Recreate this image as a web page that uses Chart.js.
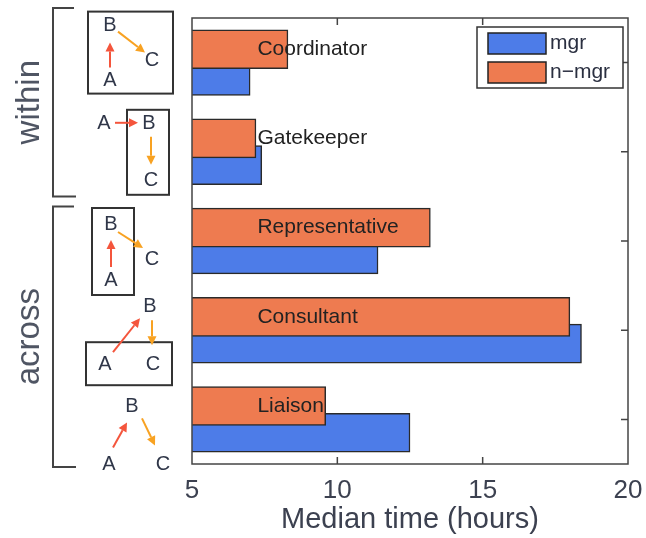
<!DOCTYPE html>
<html>
<head>
<meta charset="utf-8">
<script src="https://cdn.jsdelivr.net/npm/chart.js@4.4.1/dist/chart.umd.min.js"></script>
<style>
  html, body { margin: 0; padding: 0; background: #fff; }
  #wrap { width: 646px; height: 538px; }
</style>
</head>
<body>
<div id="wrap"><canvas id="chart" width="646" height="538"></canvas></div>
<script>
// Values
const roles = ['Coordinator', 'Gatekeeper', 'Representative', 'Consultant', 'Liaison'];
const mgrTimes = [7.0, 7.4, 11.4, 18.4, 12.5];
const nmgrTimes = [8.3, 7.2, 13.2, 18.0, 9.6];
const xTicks = [5, 10, 15, 20];
const xTitle = 'Median time (hours)';
const groupLabels = ['within', 'across'];
const groupRows = [[0, 1], [2, 4]];

const FONT = "'Liberation Sans', Arial, sans-serif";
const BLUE = '#4d7ce8';
const ORANGE = '#ee7b50';
const RED_ARROW = '#f4553c';
const ORANGE_ARROW = '#f8a222';
const INK = '#2f3648';
const AXIS_INK = '#3c4150';
const ROW_SHIFT = 0.15;   // each series sits a bit off the row centre (bars overlap)
const LABEL_AT = 7.25;    // role names start at this x value

// broker motif next to each row: letter offsets in px from the row centre,
// box [x0, dy0, x1, dy1], arrows [x0, dy0, x1, dy1]
const motifs = [
  { A: [110, 17], B: [110, -38], C: [152, -3], box: [88, -51, 173, 31],
    red: [110, 5, 110, -20], orange: [118, -31, 145, -10] },
  { A: [104, -29], B: [149, -29], C: [151, 28], box: [127, -42, 169, 43],
    red: [115, -29, 138, -29], orange: [151, -15, 151, 13] },
  { A: [111, 38], B: [111, -18], C: [152, 17], box: [92, -33, 134, 54],
    red: [111, 26, 111, -1], orange: [118, -9, 143, 7] },
  { A: [105, 33], B: [150, -25], C: [153, 33], box: [86, 12, 172, 55],
    red: [113, 22, 140, -12], orange: [152, -10, 152, 15] },
  { A: [109, 44], B: [132, -14], C: [163, 44], box: null,
    red: [113, 28, 127, 3], orange: [142, -1, 155, 26] },
];

function arrow(ctx, x0, y0, x1, y1, color) {
  const ang = Math.atan2(y1 - y0, x1 - x0);
  const head = 9, half = 4.5;
  const bx = x1 - head * Math.cos(ang), by = y1 - head * Math.sin(ang);
  ctx.save();
  ctx.strokeStyle = color;
  ctx.fillStyle = color;
  ctx.lineWidth = 2;
  ctx.beginPath();
  ctx.moveTo(x0, y0);
  ctx.lineTo(bx, by);
  ctx.stroke();
  ctx.beginPath();
  ctx.moveTo(x1, y1);
  ctx.lineTo(bx + half * Math.sin(ang), by - half * Math.cos(ang));
  ctx.lineTo(bx - half * Math.sin(ang), by + half * Math.cos(ang));
  ctx.closePath();
  ctx.fill();
  ctx.restore();
}

const decorations = {
  id: 'decorations',
  beforeDatasetsDraw(chart) {
    const { ctx, chartArea: a, scales: { x, y } } = chart;
    ctx.save();
    ctx.strokeStyle = '#444';
    ctx.lineWidth = 1.5;
    ctx.beginPath();
    xTicks.slice(1, -1).forEach(v => {
      const px = x.getPixelForValue(v);
      ctx.moveTo(px, a.top); ctx.lineTo(px, a.top + 7);
      ctx.moveTo(px, a.bottom); ctx.lineTo(px, a.bottom - 7);
    });
    roles.forEach((r, i) => {
      const py = y.getPixelForValue(i);
      ctx.moveTo(a.left, py); ctx.lineTo(a.left + 7, py);
      ctx.moveTo(a.right, py); ctx.lineTo(a.right - 7, py);
    });
    ctx.stroke();
    ctx.restore();
  },
  afterDatasetsDraw(chart) {
    const { ctx, chartArea: a, scales: { x, y } } = chart;
    ctx.save();

    // frame
    ctx.strokeStyle = '#444';
    ctx.lineWidth = 1.5;
    ctx.strokeRect(a.left, a.top, a.right - a.left, a.bottom - a.top);

    // axis title
    ctx.fillStyle = AXIS_INK;
    ctx.font = '29px ' + FONT;
    ctx.textAlign = 'center';
    ctx.textBaseline = 'middle';
    ctx.fillText(xTitle, (a.left + a.right) / 2, a.bottom + 56);

    // role names on the bars
    ctx.fillStyle = '#222';
    ctx.font = '21px ' + FONT;
    ctx.textAlign = 'left';
    roles.forEach((r, i) => {
      ctx.fillText(r, x.getPixelForValue(LABEL_AT), y.getPixelForValue(i - ROW_SHIFT));
    });

    // legend
    const lx = a.right - 151, ly = a.top + 9;
    ctx.fillStyle = '#fff';
    ctx.fillRect(lx, ly, 146, 61);
    ctx.strokeStyle = '#333';
    ctx.strokeRect(lx, ly, 146, 61);
    chart.data.datasets.forEach((ds, k) => {
      const sy = ly + 6 + k * 29;
      ctx.fillStyle = ds.backgroundColor;
      ctx.fillRect(lx + 11, sy, 58, 21);
      ctx.strokeStyle = '#222';
      ctx.strokeRect(lx + 11, sy, 58, 21);
      ctx.fillStyle = '#2a2f40';
      ctx.font = '21px ' + FONT;
      ctx.fillText(ds.label, lx + 73, sy + 10);
    });

    // group brackets and rotated labels
    ctx.strokeStyle = '#444';
    ctx.lineWidth = 2;
    groupRows.forEach(([r0, r1], g) => {
      const top = y.getPixelForValue(r0 - 0.5) + (g === 0 ? -10 : 10);
      const bot = y.getPixelForValue(r1 + 0.5) + (g === 0 ? 0 : 3);
      ctx.beginPath();
      ctx.moveTo(74, top); ctx.lineTo(53, top); ctx.lineTo(53, bot); ctx.lineTo(76, bot);
      ctx.stroke();
      ctx.save();
      ctx.translate(30, (top + bot) / 2);
      ctx.rotate(-Math.PI / 2);
      ctx.fillStyle = '#4f5563';
      ctx.font = '33px ' + FONT;
      ctx.textAlign = 'center';
      ctx.textBaseline = 'middle';
      ctx.fillText(groupLabels[g], 0, 0);
      ctx.restore();
    });

    // broker motifs
    motifs.forEach((m, i) => {
      const cy = y.getPixelForValue(i);
      if (m.box) {
        ctx.strokeStyle = '#333';
        ctx.lineWidth = 2;
        ctx.strokeRect(m.box[0], cy + m.box[1], m.box[2] - m.box[0], m.box[3] - m.box[1]);
      }
      arrow(ctx, m.red[0], cy + m.red[1], m.red[2], cy + m.red[3], RED_ARROW);
      arrow(ctx, m.orange[0], cy + m.orange[1], m.orange[2], cy + m.orange[3], ORANGE_ARROW);
      ctx.fillStyle = INK;
      ctx.font = '20px ' + FONT;
      ctx.textAlign = 'center';
      ctx.textBaseline = 'middle';
      ['A', 'B', 'C'].forEach(k => ctx.fillText(k, m[k][0], cy + m[k][1] + 1));
    });

    ctx.restore();
  }
};

const ctx = document.getElementById('chart').getContext('2d');
new Chart(ctx, {
  type: 'bar',
  data: {
    datasets: [
      {
        label: 'mgr',
        data: roles.map((r, i) => ({ x: mgrTimes[i], y: i + ROW_SHIFT })),
        backgroundColor: BLUE,
        order: 1,
      },
      {
        label: 'n\u2212mgr',
        data: roles.map((r, i) => ({ x: nmgrTimes[i], y: i - ROW_SHIFT })),
        backgroundColor: ORANGE,
        order: 0,
      },
    ]
  },
  options: {
    indexAxis: 'y',
    responsive: false,
    animation: false,
    layout: { padding: { left: 192, right: 18, top: 18, bottom: 20 } },
    datasets: {
      bar: {
        grouped: false,
        barThickness: 39,
        borderColor: '#2a2a2a',
        borderWidth: 1.5,
        borderSkipped: false,
      }
    },
    scales: {
      x: {
        type: 'linear',
        position: 'bottom',
        min: 5,
        max: 20,
        grid: { display: false, drawTicks: false },
        border: { display: false },
        afterBuildTicks: axis => { axis.ticks = xTicks.map(v => ({ value: v })); },
        // the tick padding would otherwise be added to the side overhang
        afterFit: axis => { axis.paddingLeft = 0; axis.paddingRight = 0; },
        ticks: {
          font: { family: FONT, size: 26, lineHeight: 1 },
          color: AXIS_INK,
          padding: 14,
          maxRotation: 0,
          autoSkip: false,
        },
      },
      y: {
        type: 'linear',
        min: -0.5,
        max: 4.5,
        reverse: true,
        offset: false,
        display: false,
      }
    },
    plugins: {
      legend: { display: false },
      tooltip: { enabled: false },
    }
  },
  plugins: [decorations]
});
</script>
</body>
</html>
